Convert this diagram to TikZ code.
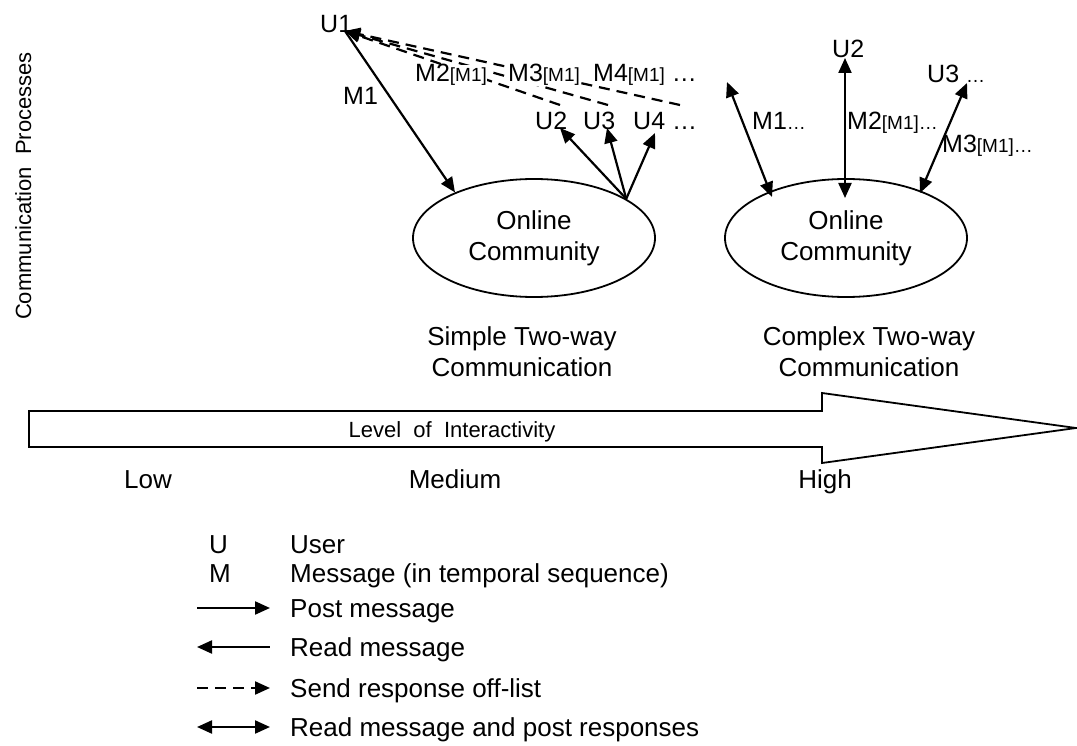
\documentclass[tikz,border=0pt]{standalone}
\usepackage{fontspec}
\setmainfont{Liberation Sans}
\usetikzlibrary{arrows.meta,shapes.geometric}
\newcommand\fsLab{\fontsize{25}{30}\selectfont}
\newcommand\fsSub{\fontsize{19}{22}\selectfont}
\newcommand\fsTxt{\fontsize{26}{31}\selectfont}
\begin{document}
\begin{tikzpicture}[x=1pt,y=-1pt,
  >={Triangle[length=15pt,width=13pt]},
  lbl/.style={font=\fsLab, inner sep=0pt, anchor=base west},
  lblw/.style={lbl, fill=white},
  txt/.style={font=\fsTxt, inner sep=0pt, align=center},
  ell/.style={ellipse, draw, line width=1.8pt, minimum width=242pt, minimum height=118pt, inner sep=0pt, font=\fsTxt, align=center},
  arr/.style={line width=2.2pt, ->},
  dbl/.style={line width=2.2pt, <->},
  rd/.style={line width=2.2pt, <-},
  dsh/.style={line width=2.2pt, dash pattern=on 11pt off 7pt, ->}
]
\path[use as bounding box] (0,0) rectangle (1077,746);

% vertical axis title
\node[font=\fontsize{22}{26}\selectfont, inner sep=0pt, rotate=90, anchor=base east] (vt) at (31,52) {Communication\ \ Processes};

% ---- simple two-way ----
\node[ell] (ell1) at (534,238) {Online\\Community};
\node[lbl] (U1) at (320,33) {U1};
\coordinate (u1tip) at (345,31);
\coordinate (d2) at (560,105);
\coordinate (d3) at (608,105);
\coordinate (d4) at (680,105);
\draw[dsh] (d4) -- (u1tip);
\draw[dsh] (d3) -- (u1tip);
\draw[dsh] (d2) -- (u1tip);
\node[lblw] (M2a) at (415,82) {M2{\fsSub[M1]}};
\node[lblw] (M3a) at (508,82) {M3{\fsSub[M1]}};
\node[lblw] (M4a) at (593,82) {M4{\fsSub[M1]} …};
\node[lbl] (M1a) at (343,105) {M1};
\draw[arr] (u1tip) -- (ell1.150);
\node[lbl] (U2a) at (535,130) {U2};
\node[lbl] (U3a) at (583,130) {U3};
\node[lbl] (U4a) at (633,130) {U4 …};
\coordinate (a2) at (560,128);
\coordinate (a3) at (607,128);
\coordinate (a4) at (655,133);
\draw[arr] (ell1.23) -- (a2);
\draw[arr] (ell1.23) -- (a3);
\draw[arr] (ell1.23) -- (a4);

% ---- complex two-way ----
\node[ell] (ell2) at (846,238) {Online\\Community};
\node[lbl] (U2b) at (832,58) {U2};
\node[lbl] (U3b) at (927,83) {U3 {\fsSub …}};
\node[lbl] (M1b) at (752,130) {M1{\fsSub …}};
\node[lbl] (M2b) at (847,130) {M2{\fsSub[M1]…}};
\node[lbl] (M3b) at (942,153) {M3{\fsSub[M1]…}};
\coordinate (r1t) at (727,82);
\coordinate (r1b) at (772,197);
\coordinate (r2t) at (845,58);
\coordinate (r2b) at (845,198);
\coordinate (r3t) at (967,83);
\coordinate (r3b) at (920,193);
\draw[dbl] (r1t) -- (r1b);
\draw[dbl] (r2t) -- (r2b);
\draw[dbl] (r3t) -- (r3b);

% captions
\node[txt] (cap1) at (522,352) {Simple Two-way\\Communication};
\node[txt] (cap2) at (869,352) {Complex Two-way\\Communication};

% ---- big arrow ----
\draw[line width=1.8pt, line join=miter] (29,411) -- (822,411) -- (822,393) -- (1076,428) -- (822,463) -- (822,447) -- (29,447) -- cycle;
\node[font=\fontsize{22}{26}\selectfont, inner sep=0pt, anchor=base] (lvl) at (452,437) {Level\ \ of\ \ Interactivity};
\node[txt, anchor=base] (low) at (148,488) {Low};
\node[txt, anchor=base] (med) at (455,488) {Medium};
\node[txt, anchor=base] (high) at (825,488) {High};

% ---- legend ----
\node[txt, anchor=base west] (lgU) at (209,553) {U};
\node[txt, anchor=base west] (lgUt) at (290,553) {User};
\node[txt, anchor=base west] (lgM) at (209,582) {M};
\node[txt, anchor=base west] (lgMt) at (290,582) {Message (in temporal sequence)};
\coordinate (p1) at (197,608); \coordinate (p2) at (270,608);
\coordinate (q1) at (197,647); \coordinate (q2) at (270,647);
\coordinate (s1) at (197,688); \coordinate (s2) at (270,688);
\coordinate (t1) at (197,727); \coordinate (t2) at (270,727);
\draw[arr] (p1) -- (p2);
\draw[rd] (q1) -- (q2);
\draw[dsh] (s1) -- (s2);
\draw[dbl] (t1) -- (t2);
\node[txt, anchor=base west] (lg1) at (290,617) {Post message};
\node[txt, anchor=base west] (lg2) at (290,656) {Read message};
\node[txt, anchor=base west] (lg3) at (290,697) {Send response off-list};
\node[txt, anchor=base west] (lg4) at (290,736) {Read message and post responses};
\end{tikzpicture}
\end{document}
